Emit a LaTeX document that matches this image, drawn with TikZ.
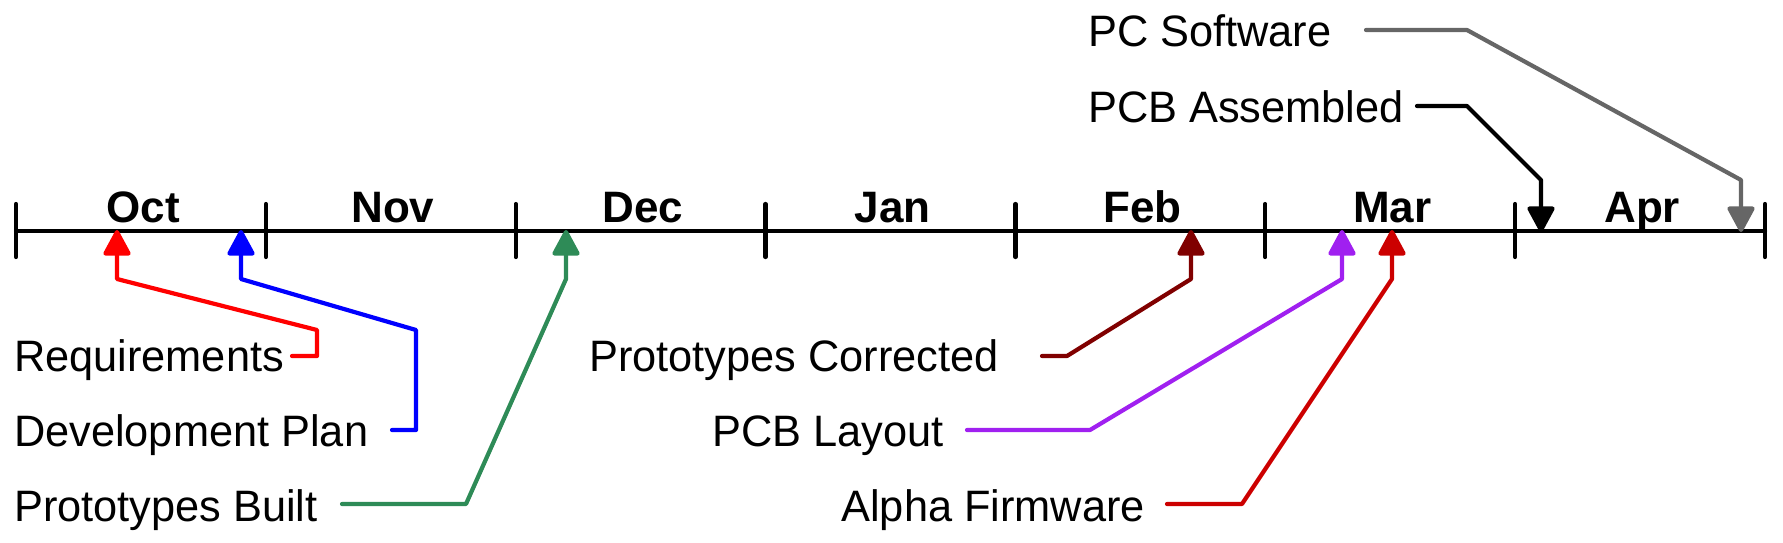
\documentclass[tikz,border=0pt]{standalone}
\usepackage{fontspec}
\setmainfont{Liberation Sans}
\newfontfamily\lblfont{Liberation Sans}[FakeStretch=0.985]
\usetikzlibrary{arrows.meta}
\definecolor{creq}{HTML}{FF0000}
\definecolor{cdev}{HTML}{0000FF}
\definecolor{cpb}{HTML}{2E8B57}
\definecolor{cpc}{HTML}{800000}
\definecolor{clay}{HTML}{A020F0}
\definecolor{cfw}{HTML}{CC0000}
\definecolor{csw}{HTML}{666666}
\begin{document}
\begin{tikzpicture}[x=0.5pt,y=-0.5pt,line width=2.1pt,line join=round,line cap=round,
  lbl/.style={font=\lblfont\fontsize{22}{26}\selectfont,inner sep=0pt},
  month/.style={font=\fontsize{22}{26}\selectfont\bfseries,inner sep=0pt,anchor=base},
  conn/.style={-{Triangle[width=14.5pt,length=14pt,round]}}]
\useasboundingbox (0,0) rectangle (1783,542);
% axis
\coordinate (a0) at (16,231);
\coordinate (a7) at (1765,231);
\draw (a0) -- (a7);
\foreach \i in {0,...,7}{
  \draw ({16+249.857*\i},204) -- ({16+249.857*\i},257);
}
\foreach \m [count=\i from 0] in {Oct,Nov,Dec,Jan,Feb,Mar,Apr}{
  \node[month] (m\i) at ({143+249.857*\i},222) {\m};
}
% labels
\node[lbl,anchor=base west] (req) at (12,371) {Requirements};
\node[lbl,anchor=base west] (dev) at (12,446) {Development Plan};
\node[lbl,anchor=base west] (pb)  at (12,521) {Prototypes Built};
\node[lbl,anchor=base west] (pc)  at (587,371) {Prototypes Corrected};
\node[lbl,anchor=base east] (lay) at (946,446) {PCB Layout};
\node[lbl,anchor=base east] (fw)  at (1147,521) {Alpha Firmware};
\node[lbl,anchor=base west] (sw)  at (1086,46) {PC Software};
\node[lbl,anchor=base west] (asm) at (1086,122) {PCB Assembled};
% connector ends
\coordinate (reqS) at (292,356);  \coordinate (reqT) at (117,230);
\coordinate (devS) at (392,430);  \coordinate (devT) at (241,230);
\coordinate (pbS)  at (342,504);  \coordinate (pbT)  at (566,230);
\coordinate (pcS)  at (1042,356); \coordinate (pcT)  at (1191,230);
\coordinate (layS) at (967,430);  \coordinate (layT) at (1342,230);
\coordinate (fwS)  at (1167,504); \coordinate (fwT)  at (1392,230);
\coordinate (asmS) at (1417,106); \coordinate (asmT) at (1541,232);
\coordinate (swS)  at (1366,30);  \coordinate (swT)  at (1741,232);
% connectors
\draw[conn,creq] (reqS) -- (317,356) -- (317,330) -- (117,279) -- (reqT);
\draw[conn,cdev] (devS) -- (416,430) -- (416,330) -- (241,279) -- (devT);
\draw[conn,cpb]  (pbS) -- (466,504) -- (566,279) -- (pbT);
\draw[conn,cpc]  (pcS) -- (1067,356) -- (1191,279) -- (pcT);
\draw[conn,clay] (layS) -- (1090,430) -- (1342,279) -- (layT);
\draw[conn,cfw]  (fwS) -- (1242,504) -- (1392,279) -- (fwT);
\draw[conn,black] (asmS) -- (1467,106) -- (1541,180) -- (asmT);
\draw[conn,csw]  (swS) -- (1467,30) -- (1741,180) -- (swT);
\end{tikzpicture}
\end{document}
